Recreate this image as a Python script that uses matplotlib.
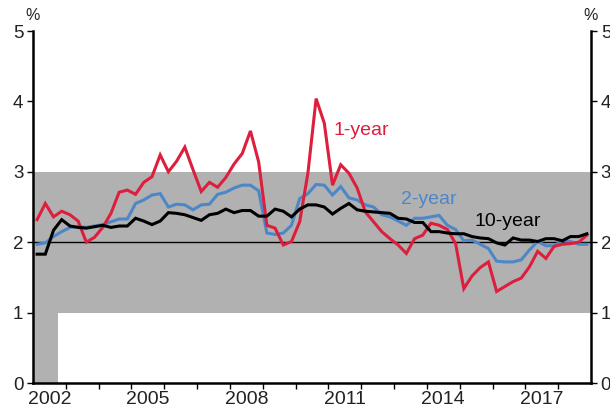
import numpy as np
import matplotlib
matplotlib.use("Agg")
import matplotlib.pyplot as plt

plt.rcParams['font.family'] = ['Liberation Sans', 'DejaVu Sans']

# Quarterly, 2002 Q1 .. 2018 Q4
start_year = 2002
one_year = [2.32, 2.55, 2.36, 2.44, 2.39, 2.30, 2.00, 2.07, 2.21, 2.41, 2.71, 2.74, 2.68, 2.85, 2.93, 3.24, 3.00,
            3.15, 3.35, 3.03, 2.72, 2.85, 2.78, 2.92, 3.11, 3.26, 3.58, 3.14, 2.24, 2.20, 1.96, 2.01, 2.29, 2.98, 4.04, 3.69,
            2.81, 3.10, 2.98, 2.77, 2.43, 2.29, 2.15, 2.05, 1.96, 1.84, 2.05, 2.10, 2.27, 2.24, 2.18, 1.98, 1.34,
            1.52, 1.64, 1.72, 1.30, 1.37, 1.44, 1.49, 1.65, 1.87, 1.77, 1.94, 1.97, 1.98, 2.00, 2.10]
two_year = [1.97, 1.99, 2.08, 2.15, 2.21, 2.22, 2.21, 2.23, 2.25, 2.29, 2.33, 2.33, 2.55, 2.60, 2.67, 2.69, 2.50,
            2.54, 2.53, 2.46, 2.53, 2.54, 2.68, 2.71, 2.77, 2.81, 2.81, 2.73, 2.13, 2.11, 2.13, 2.24, 2.62, 2.69, 2.82, 2.81,
            2.67, 2.79, 2.63, 2.60, 2.53, 2.50, 2.39, 2.36, 2.30, 2.24, 2.34, 2.34, 2.36, 2.38, 2.24, 2.18, 2.02,
            2.03, 1.97, 1.91, 1.73, 1.72, 1.72, 1.75, 1.89, 2.01, 1.95, 1.95, 2.02, 2.01, 1.97, 1.97]
ten_year = [1.83, 1.83, 2.17, 2.32, 2.23, 2.21, 2.20, 2.22, 2.24, 2.21, 2.23, 2.23, 2.34, 2.30, 2.25, 2.30, 2.42,
            2.41, 2.39, 2.35, 2.31, 2.39, 2.41, 2.47, 2.42, 2.45, 2.45, 2.37, 2.37, 2.47, 2.44, 2.36, 2.47, 2.53, 2.53, 2.50,
            2.40, 2.48, 2.55, 2.46, 2.44, 2.43, 2.42, 2.41, 2.34, 2.33, 2.28, 2.28, 2.15, 2.15, 2.13, 2.12, 2.12,
            2.08, 2.06, 2.05, 1.99, 1.96, 2.06, 2.03, 2.03, 2.01, 2.05, 2.05, 2.02, 2.08, 2.08, 2.12]
year_labels = ['2002', '2005', '2008', '2011', '2014', '2017']

n = len(one_year)
t = start_year + 0.125 + 0.25 * np.arange(n)

RED = '#DD1E3D'
BLUE = '#4D87C7'
GREY = '#B1B1B1'

fig = plt.figure(figsize=(6.10, 4.09), dpi=100)
ax = fig.add_axes([33/610, 26/409, 558/610, 352/409])

x0, x1 = 2002.0, 2019.0
ax.set_xlim(x0, x1)
ax.set_ylim(0, 5)

ax.axhspan(1, 3, color=GREY, lw=0, zorder=0)
ax.fill_between([x0, 2002.76], 0, 1, color=GREY, lw=0, zorder=0)
ax.axhline(2, color='black', lw=1.0, zorder=1)

lw = 2.2
ax.plot(t, one_year, color=RED, lw=lw, zorder=3, solid_joinstyle='miter')
ax.plot(t, two_year, color=BLUE, lw=lw, zorder=2, solid_joinstyle='miter')
ax.plot(t, ten_year, color='black', lw=lw, zorder=4, solid_joinstyle='miter')

fs = 14
ax.text(2011.14, 3.59, '1-year', color=RED, fontsize=fs, ha='left', va='center')
ax.text(2013.21, 2.60, '2-year', color=BLUE, fontsize=fs, ha='left', va='center')
ax.text(2016.47, 2.30, '10-year', color='black', fontsize=fs, ha='center', va='center')

# spines
ax.spines['top'].set_visible(False)
for s in ['left', 'right', 'bottom']:
    ax.spines[s].set_linewidth(1.8)
    ax.spines[s].set_color('black')

# y ticks on both sides
ax.set_yticks(range(0, 6))
ax.tick_params(axis='y', which='both', left=True, right=True, labelleft=True, labelright=True,
               direction='out', length=4, width=1, labelsize=13.5, colors='black', labelcolor='#222222', pad=3)

# x ticks: minor ticks at year boundaries, labels centred on years
ax.set_xticks(np.arange(2003, 2019), minor=True)
ax.set_xticks([int(y) + 0.5 for y in year_labels])
ax.set_xticklabels(year_labels)
ax.tick_params(axis='x', which='minor', direction='out', length=4, width=1)
ax.tick_params(axis='x', which='major', length=0, labelsize=14, labelcolor='#222222', pad=6)

fig.text(33/610, 1 - 15/409, '%', ha='center', va='center', fontsize=11.5, color='#222222')
fig.text(591/610, 1 - 15/409, '%', ha='center', va='center', fontsize=11.5, color='#222222')

fig.savefig('out.png', dpi=100)
